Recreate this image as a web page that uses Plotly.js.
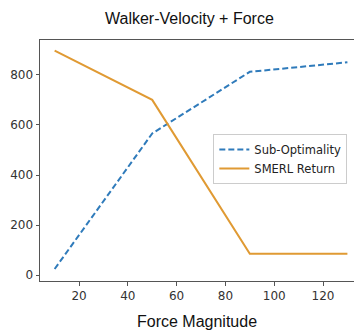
<!DOCTYPE html>
<html><head><meta charset="utf-8">
<script src="https://cdn.plot.ly/plotly-3.0.1.min.js"></script>
<style>html,body{margin:0;padding:0;background:#fff}#c{width:354px;height:331px}</style>
</head><body><div id="c"></div>
<script>
const forceMagnitude = [10, 50, 90, 130];
const subOptimality = [25, 566, 812, 850];
const smerlReturn = [897, 700, 86, 86];
const xTicks = [20, 40, 60, 80, 100, 120];
const yTicks = [0, 200, 400, 600, 800];

const traces = [
  {x: forceMagnitude, y: subOptimality, name: 'Sub-Optimality', mode: 'lines',
   line: {color: '#2f7bbb', width: 2, dash: '6px,3px'}},
  {x: forceMagnitude, y: smerlReturn, name: 'SMERL Return', mode: 'lines',
   line: {color: '#e09a33', width: 2}}
];
const tickFont = {family: 'DejaVu Sans', size: 12, color: '#333'};
const layout = {
  width: 354, height: 331,
  margin: {l: 40, r: 0, t: 40, b: 50},
  paper_bgcolor: '#fff', plot_bgcolor: '#fff',
  showlegend: true,
  title: {text: 'Walker-Velocity + Force', x: 0.535, xanchor: 'center', y: 0.945, yanchor: 'middle',
          font: {family: 'Liberation Sans', size: 16, color: '#111'}},
  xaxis: {range: [4, 132.7], tickvals: xTicks, ticktext: xTicks.map(String),
          showgrid: false, zeroline: false, showline: true, mirror: true, linecolor: '#555', linewidth: 1,
          ticks: 'outside', ticklen: 3.5, tickcolor: '#555', tickfont: tickFont,
          title: {text: 'Force Magnitude', standoff: 13, font: {family: 'Liberation Sans', size: 16, color: '#111'}}},
  yaxis: {range: [-23, 939], tickvals: yTicks, ticktext: yTicks.map(String),
          showgrid: false, zeroline: false, showline: true, linecolor: '#555', linewidth: 1,
          ticks: 'outside', ticklen: 3.5, tickcolor: '#555', tickfont: tickFont},
  legend: {x: 0.552, y: 0.61, xanchor: 'left', yanchor: 'top', bgcolor: 'rgba(255,255,255,0.85)',
           bordercolor: '#ccc', borderwidth: 1, itemwidth: 30,
           font: {family: 'DejaVu Sans', size: 11.5, color: '#222'}, tracegroupgap: 0}
};
Plotly.newPlot('c', traces, layout, {displayModeBar: false, staticPlot: true});
</script></body></html>
